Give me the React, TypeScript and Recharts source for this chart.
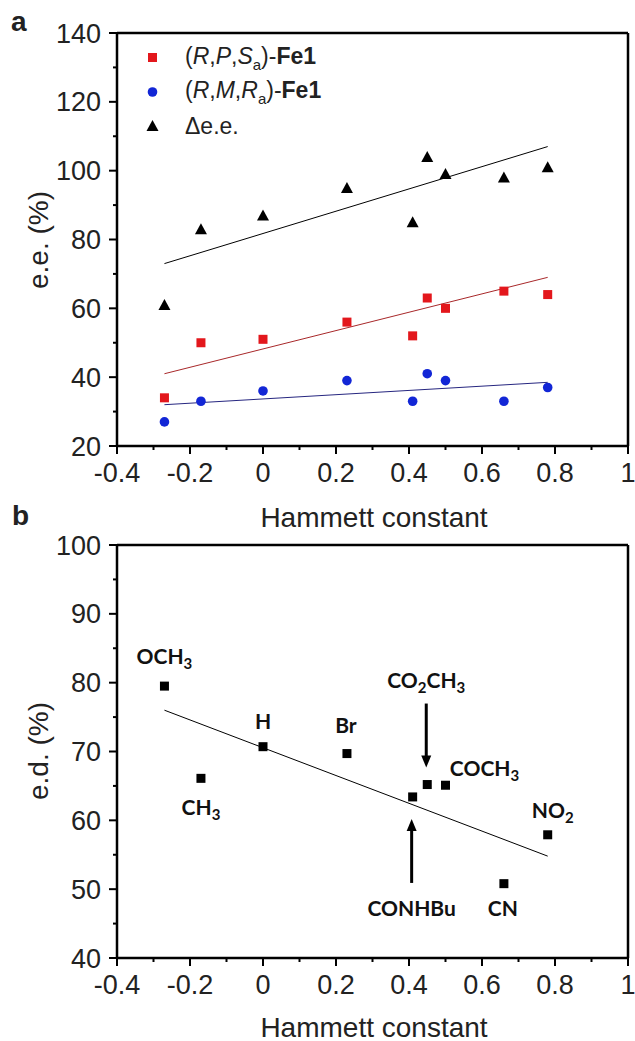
import { ScatterChart, Scatter, XAxis, YAxis, ReferenceLine } from 'recharts'

// Hammett sigma_p of each para substituent
const SUBSTITUENTS = ['OCH3', 'CH3', 'H', 'Br', 'CONHBu', 'CO2CH3', 'COCH3', 'CN', 'NO2']
const HAMMETT = [-0.27, -0.17, 0, 0.23, 0.41, 0.45, 0.5, 0.66, 0.78]

// panel a, e.e. (%)
const EE_RPS = [34, 50, 51, 56, 52, 63, 60, 65, 64]
const EE_RMR = [27, 33, 36, 39, 33, 41, 39, 33, 37]
const DELTA_EE = [61, 83, 87, 95, 85, 104, 99, 98, 101]

// panel b, e.d. (%)
const ED = [79.5, 66.1, 70.7, 69.7, 63.4, 65.2, 65.1, 50.8, 57.9]

// linear fits, read at the two ends
const FIT_X = [-0.27, 0.78]
const FIT_RPS = [41, 69]
const FIT_RMR = [32, 38.5]
const FIT_DELTA = [73, 107]
const FIT_ED = [76, 54.8]

const X_MAJOR = [-0.4, -0.2, 0, 0.2, 0.4, 0.6, 0.8, 1]
const X_MINOR = [-0.3, -0.1, 0.1, 0.3, 0.5, 0.7, 0.9]
const EE_MAJOR = [20, 40, 60, 80, 100, 120, 140]
const EE_MINOR = [30, 50, 70, 90, 110, 130]
const ED_MAJOR = [40, 50, 60, 70, 80, 90, 100]
const ED_MINOR = [45, 55, 65, 75, 85, 95]

const RED = '#e3171c'
const BLUE = '#1226d6'
const AXIS_FONT = "'Liberation Sans', Arial, sans-serif"
const NOTE_FONT = "Lato, 'Open Sans', sans-serif"

// where each substituent label sits relative to its point
const LABEL_POS: Record<string, { dx: number; dy: number; arrow?: 'down' | 'up' }> = {
  OCH3: { dx: 0, dy: -30 },
  CH3: { dx: 0, dy: 29 },
  H: { dx: 0, dy: -26 },
  Br: { dx: -1, dy: -29 },
  CONHBu: { dx: -1, dy: 111, arrow: 'up' },
  CO2CH3: { dx: -1, dy: -105, arrow: 'down' },
  COCH3: { dx: 39, dy: -17 },
  CN: { dx: -1, dy: 24 },
  NO2: { dx: 5, dy: -25 },
}

const isIn = (list: number[], v: number) => list.some(m => Math.abs(m - v) < 1e-9)

function makeTick(side: 'bottom' | 'left' | 'top' | 'right', major: number[]) {
  return (props: any) => {
    const { x, y, payload } = props
    const v = payload.value
    const big = isIn(major, v)
    const len = big ? 8 : 4
    if (side === 'bottom') {
      return (
        <g>
          <line x1={x} x2={x} y1={y} y2={y + len} stroke="#000" strokeWidth={2} />
          {big && (
            <text x={x} y={y + 36} textAnchor="middle" fontSize={27} fontFamily={AXIS_FONT} fill="#222">
              {String(Number(v.toFixed(1)))}
            </text>
          )}
        </g>
      )
    }
    if (side === 'left') {
      return (
        <g>
          <line x1={x - len} x2={x} y1={y} y2={y} stroke="#000" strokeWidth={2} />
          {big && (
            <text x={x - 16} y={y + 9.5} textAnchor="end" fontSize={27} fontFamily={AXIS_FONT} fill="#222">
              {v}
            </text>
          )}
        </g>
      )
    }
    if (side === 'top') {
      return <line x1={x} x2={x} y1={y} y2={y + len} stroke="#000" strokeWidth={2} />
    }
    return <line x1={x - len} x2={x} y1={y} y2={y} stroke="#000" strokeWidth={2} />
  }
}

const square = (size: number, color: string) => (p: any) =>
  <rect x={p.cx - size / 2} y={p.cy - size / 2} width={size} height={size} fill={color} />
const circle = (p: any) => <circle cx={p.cx} cy={p.cy} r={4.8} fill={BLUE} />
const triangle = (p: any) => (
  <polygon points={`${p.cx},${p.cy - 6} ${p.cx - 6},${p.cy + 5} ${p.cx + 6},${p.cy + 5}`} fill="#000" />
)

function Chem({ text, x, y }: { text: string; x: number; y: number }) {
  const parts = text.split(/(\d)/).filter(s => s !== '')
  let down = false
  return (
    <text x={x} y={y} textAnchor="middle" fontSize={21} fontWeight={700} fontFamily={NOTE_FONT} fill="#111">
      {parts.map((s, i) => {
        const digit = /\d/.test(s)
        const dy = digit ? 5 : down ? -5 : 0
        down = digit
        return (
          <tspan key={i} dy={dy} fontSize={digit ? 15 : 21}>
            {s}
          </tspan>
        )
      })}
    </text>
  )
}

const labelled = (p: any) => {
  const name: string = p.payload.label
  const pos = LABEL_POS[name]
  const lx = p.cx + pos.dx
  const ly = p.cy + pos.dy
  return (
    <g>
      <rect x={p.cx - 4.5} y={p.cy - 4.5} width={9} height={9} fill="#000" />
      <Chem text={name} x={lx} y={ly + 8} />
      {pos.arrow === 'down' && (
        <g>
          <line x1={lx} x2={lx} y1={ly + 24} y2={ly + 78} stroke="#000" strokeWidth={3} />
          <polygon points={`${lx - 5},${ly + 76} ${lx + 5},${ly + 76} ${lx},${ly + 88}`} fill="#000" />
        </g>
      )}
      {pos.arrow === 'up' && (
        <g>
          <line x1={lx} x2={lx} y1={ly - 25} y2={ly - 79} stroke="#000" strokeWidth={3} />
          <polygon points={`${lx - 5},${ly - 77} ${lx + 5},${ly - 77} ${lx},${ly - 89}`} fill="#000" />
        </g>
      )}
    </g>
  )
}

const toPoints = (ys: number[]) => HAMMETT.map((x, i) => ({ x, y: ys[i], label: SUBSTITUENTS[i] }))
const seg = (ys: number[]) => [
  { x: FIT_X[0], y: ys[0] },
  { x: FIT_X[1], y: ys[1] },
]

// axis sizes: bottom 30, top 5, left 60, right 5 (margins below are reduced by these)
function axes(yMajor: number[], yMinor: number[], domain: [number, number]) {
  const xt = [...X_MAJOR, ...X_MINOR].sort((a, b) => a - b)
  const yt = [...yMajor, ...yMinor].sort((a, b) => a - b)
  const line = { stroke: '#000', strokeWidth: 2.5 }
  return [
    <XAxis key="xb" xAxisId={0} type="number" dataKey="x" domain={[-0.4, 1]} ticks={xt} interval={0}
      height={30} tickSize={0} tickMargin={0} tickLine={false} axisLine={line} tick={makeTick('bottom', X_MAJOR)} />,
    <XAxis key="xt" xAxisId="top" orientation="top" type="number" dataKey="x" domain={[-0.4, 1]} ticks={xt} interval={0}
      height={5} tickSize={0} tickMargin={0} tickLine={false} axisLine={line} tick={makeTick('top', X_MAJOR)} />,
    <YAxis key="yl" yAxisId={0} type="number" dataKey="y" domain={domain} ticks={yt} interval={0}
      width={60} tickSize={0} tickMargin={0} tickLine={false} axisLine={line} tick={makeTick('left', yMajor)} />,
    <YAxis key="yr" yAxisId="right" orientation="right" type="number" dataKey="y" domain={domain} ticks={yt} interval={0}
      width={5} tickSize={0} tickMargin={0} tickLine={false} axisLine={line} tick={makeTick('right', yMajor)} />,
  ]
}

const abs = (left: number, top: number, extra: any = {}) => ({ position: 'absolute' as const, left, top, ...extra })
const title = { fontFamily: AXIS_FONT, fontSize: 28, color: '#222', whiteSpace: 'nowrap' as const }

function LegendRow({ top, marker, children }: { top: number; marker: any; children: any }) {
  return (
    <div style={abs(140, top - 15, { display: 'flex', alignItems: 'center', height: 30 })}>
      <svg width={26} height={20} style={{ marginRight: 19 }}>
        {marker}
      </svg>
      <span style={{ fontFamily: AXIS_FONT, fontSize: 23, color: '#222', whiteSpace: 'nowrap' }}>{children}</span>
    </div>
  )
}

export default function App() {
  return (
    <div style={{ position: 'absolute', left: 0, top: 0, width: 635, height: 1041, background: '#fff' }}>
      <div style={abs(0, 0)}>
        <ScatterChart width={635} height={520} margin={{ top: 28, right: 2, bottom: 44, left: 57 }}>
          {axes(EE_MAJOR, EE_MINOR, [20, 140])}
          <ReferenceLine segment={seg(FIT_DELTA)} stroke="#000" strokeWidth={1} ifOverflow="visible" />
          <ReferenceLine segment={seg(FIT_RPS)} stroke="#a8282a" strokeWidth={1} ifOverflow="visible" />
          <ReferenceLine segment={seg(FIT_RMR)} stroke="#262680" strokeWidth={1} ifOverflow="visible" />
          <Scatter data={toPoints(EE_RPS)} shape={square(9, RED)} isAnimationActive={false} />
          <Scatter data={toPoints(EE_RMR)} shape={circle} isAnimationActive={false} />
          <Scatter data={toPoints(DELTA_EE)} shape={triangle} isAnimationActive={false} />
        </ScatterChart>
      </div>

      <div style={abs(0, 500)}>
        <ScatterChart width={635} height={541} margin={{ top: 40, right: 2, bottom: 53, left: 57 }}>
          {axes(ED_MAJOR, ED_MINOR, [40, 100])}
          <ReferenceLine segment={seg(FIT_ED)} stroke="#000" strokeWidth={1} ifOverflow="visible" />
          <Scatter data={toPoints(ED)} shape={labelled} isAnimationActive={false} />
        </ScatterChart>
      </div>

      <LegendRow top={58} marker={<rect x={8} y={5} width={9} height={9} fill={RED} />}>
        (<i>R</i>,<i>P</i>,<i>S</i><sub style={{ fontSize: 15 }}>a</sub>)-<b>Fe1</b>
      </LegendRow>
      <LegendRow top={92} marker={<circle cx={12.5} cy={10} r={4.8} fill={BLUE} />}>
        (<i>R</i>,<i>M</i>,<i>R</i><sub style={{ fontSize: 15 }}>a</sub>)-<b>Fe1</b>
      </LegendRow>
      <LegendRow top={126} marker={<polygon points="12.5,4 6.5,15 18.5,15" fill="#000" />}>
        Δe.e.
      </LegendRow>

      <div style={abs(11, 6, { ...title, fontWeight: 700 })}>a</div>
      <div style={abs(12, 500, { ...title, fontWeight: 700 })}>b</div>

      <div style={abs(374, 518, { ...title, transform: 'translate(-50%, -50%)' })}>Hammett constant</div>
      <div style={abs(374, 1028, { ...title, transform: 'translate(-50%, -50%)' })}>Hammett constant</div>
      <div style={abs(39, 240, { ...title, transform: 'translate(-50%, -50%) rotate(-90deg)' })}>e.e. (%)</div>
      <div style={abs(39, 751, { ...title, transform: 'translate(-50%, -50%) rotate(-90deg)' })}>e.d. (%)</div>
    </div>
  )
}
